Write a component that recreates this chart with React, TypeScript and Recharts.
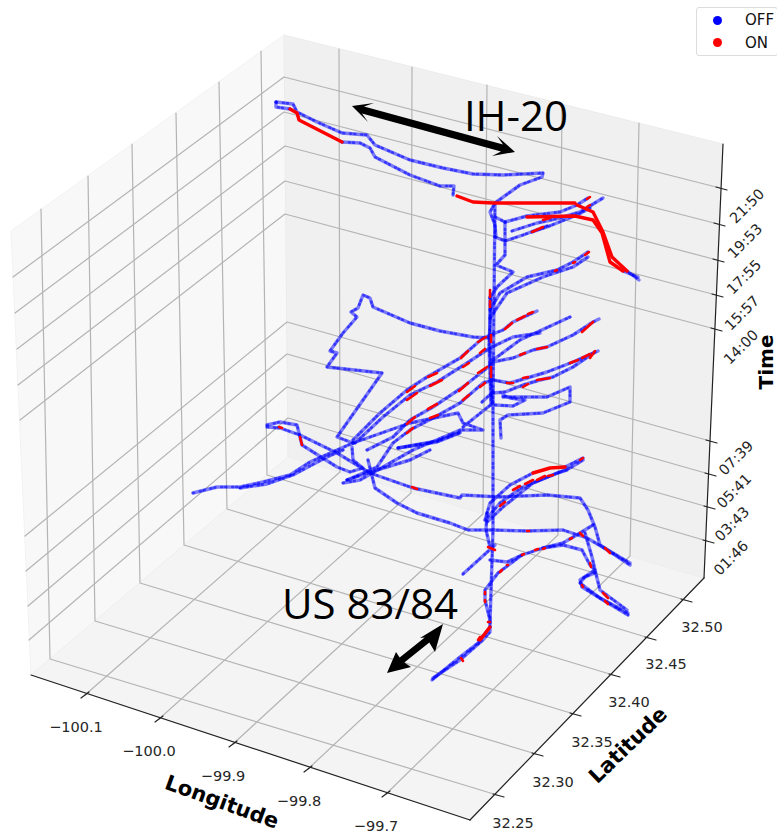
import { Legend, Scatter, ScatterChart, XAxis, YAxis } from 'recharts';

type Pt = number[];

const leftWall: Pt[] = [[11, 231], [284, 35], [288, 457], [31, 675]];
const backWall: Pt[] = [[284, 35], [723, 144], [704, 578], [288, 457]];
const floor: Pt[] = [[31, 675], [288, 457], [704, 578], [470, 820]];

const lonFront: Pt[] = [[85, 695], [159, 719], [233, 744], [308, 769], [386, 794]];
const lonBack: Pt[] = [[340, 472], [411, 493], [483, 514], [558, 535], [630, 556]];
const lonTop: Pt[] = [[339, 49], [412, 67], [487, 85], [562, 104], [639, 123]];

const latFront: Pt[] = [[497, 795], [536, 754], [574, 714], [613, 675], [649, 638], [685, 600]];
const latBack: Pt[] = [[50, 659], [95, 621], [140, 583], [184, 545], [227, 509], [267, 475]];
const latTop: Pt[] = [[41, 209], [88, 176], [132, 144], [176, 113], [219, 82], [261, 51]];

const timeRight: Pt[] = [[720, 188], [718, 224], [717, 260], [716, 295], [715, 329], [710, 441], [709, 474], [708, 507], [707, 541]];
const timeCorner: Pt[] = [[284, 77], [284, 112], [285, 146], [285, 181], [285, 214], [287, 322], [287, 354], [287, 387], [288, 418]];
const timeLeft: Pt[] = [[13, 277], [15, 313], [17, 349], [18, 385], [20, 420], [25, 536], [26, 571], [28, 606], [29, 640]];

const lonLabels = ['−100.1', '−100.0', '−99.9', '−99.8', '−99.7'];
const lonLabelAt: Pt[] = [[76, 727], [149, 751], [223, 776], [299, 801], [376, 826]];
const latLabels = ['32.25', '32.30', '32.35', '32.40', '32.45', '32.50'];
const latLabelAt: Pt[] = [[513, 823], [553, 782], [592, 742], [629, 702], [666, 664], [702, 627]];
const timeLabels = ['21:50', '19:53', '17:55', '15:57', '14:00', '07:39', '05:41', '03:43', '01:46'];
const timeLabelAt: Pt[] = [[747, 206], [745, 241], [744, 277], [742, 313], [741, 347], [736, 458], [734, 491], [732, 524], [731, 558]];

const arrowIH: Pt[] = [[352, 106], [374, 103], [364, 106.6], [503, 144.6], [497, 136], [515, 152], [492, 156], [501, 151.4], [362, 113.4], [368, 122]];
const arrowUS: Pt[] = [[443, 624], [435, 652], [429.3, 642.6], [404.3, 662.6], [411, 667], [387, 673], [396, 652], [399.7, 657.4], [424.7, 637.4], [420, 638]];

const offRoutes: Pt[][] = [
  // IH-20 pair
  [[276, 102], [293, 104], [297, 112], [317, 122], [342, 133], [367, 135], [375, 145], [410, 160], [443, 168], [473, 174], [503, 175], [543, 173], [542, 177], [520, 185], [495, 203], [490, 212], [495, 225], [496, 237]],
  [[276, 102], [276, 107], [290, 109]],
  [[342, 142], [360, 143], [370, 148], [375, 157], [410, 175], [440, 186], [454, 186], [453, 195]],
  [[495, 217], [505, 222], [527, 216], [560, 212], [577, 205], [588, 198]],
  [[512, 231], [537, 223], [560, 218], [580, 212], [603, 198]],
  [[532, 232], [547, 227], [577, 215], [590, 208]],
  [[495, 237], [505, 241], [523, 235], [547, 226]],
  [[623, 271], [638, 277]],
  [[627, 271], [639, 280]],
  [[505, 222], [505, 255], [496, 265], [513, 272], [497, 287], [490, 298]],
  [[490, 310], [500, 293], [527, 277], [557, 270], [573, 262], [588, 252]],
  [[490, 318], [507, 293], [543, 277], [573, 267], [588, 257]],
  // long vertical
  [[495, 203], [494, 300], [493, 403], [493, 530], [490, 623]],
  [[490, 297], [490, 340], [492, 403]],
  [[491, 300], [489, 345], [491, 405]],
  // middle bundle
  [[353, 440], [380, 413], [407, 390], [427, 377], [460, 358], [483, 338], [503, 330], [513, 322], [537, 311]],
  [[355, 443], [383, 417], [410, 395], [437, 382], [467, 363], [490, 348], [513, 337], [540, 333]],
  [[493, 360], [520, 340], [570, 317]],
  [[367, 450], [393, 437], [410, 420], [433, 407], [463, 387], [487, 368], [493, 362], [513, 358], [533, 350], [547, 347], [573, 335], [593, 322], [599, 319]],
  [[347, 480], [377, 467], [393, 443], [410, 430], [435, 417], [460, 403], [483, 383], [493, 380], [510, 383], [527, 378], [547, 372], [573, 362], [598, 351]],
  [[493, 393], [505, 392], [523, 385], [540, 380], [553, 377], [573, 367], [595, 352]],
  // zigzag on the left
  [[353, 443], [337, 437], [382, 373], [327, 367], [337, 353], [330, 351], [343, 333], [357, 317], [351, 312], [358, 308], [363, 295], [370, 298], [373, 307], [410, 323], [440, 331], [473, 337], [490, 338]],
  [[193, 493], [217, 487], [240, 487], [263, 482], [290, 475], [310, 462], [337, 450], [353, 443]],
  [[240, 488], [267, 484], [293, 475], [308, 467], [327, 457], [343, 450]],
  [[267, 427], [280, 428], [300, 435], [337, 453], [370, 473], [413, 488], [460, 498], [462, 495], [500, 497], [547, 495], [580, 498], [588, 510], [595, 527], [600, 545], [630, 565]],
  [[267, 425], [280, 422], [297, 425], [300, 437], [302, 445], [337, 467], [350, 472], [363, 468], [353, 460], [352, 447]],
  [[368, 460], [375, 488], [397, 503], [417, 513], [450, 523], [468, 530], [493, 530], [527, 531], [563, 530], [587, 538], [630, 563]],
  [[347, 480], [377, 470], [410, 460], [430, 450]],
  [[343, 483], [360, 480], [413, 450], [460, 430], [483, 430], [463, 423], [458, 413], [410, 423], [353, 443]],
  [[398, 448], [437, 442], [460, 433]],
  [[398, 448], [437, 441], [460, 432]],
  [[463, 427], [493, 403]],
  // short stubs by the stem
  [[482, 402], [493, 392]],
  [[495, 405], [513, 406], [525, 400], [510, 398], [503, 395]],
  [[503, 397], [547, 397], [570, 387], [570, 402], [543, 413], [508, 415], [500, 420], [501, 438]],
  // lower cluster
  [[485, 520], [490, 503], [510, 485], [533, 473]],
  [[565, 467], [583, 458]],
  [[488, 517], [500, 503], [523, 487], [553, 475], [570, 468], [583, 460]],
  [[487, 522], [503, 507], [533, 483], [557, 473], [567, 470]],
  [[487, 513], [486, 530], [490, 547]],
  [[463, 574], [495, 545]],
  [[490, 560], [507, 562], [522, 555], [543, 548], [563, 543], [580, 533], [593, 525]],
  [[522, 555], [498, 573], [485, 590], [485, 600], [490, 620], [490, 632], [483, 640], [460, 660], [433, 678]],
  [[490, 627], [478, 643], [460, 657], [450, 665], [432, 680]],
  [[543, 548], [563, 545], [582, 550], [590, 565], [595, 570], [580, 580], [582, 587], [603, 600], [628, 615]],
  [[585, 533], [592, 557], [595, 570], [600, 590], [627, 610]],
  [[595, 573], [585, 577], [580, 583], [600, 598], [628, 613]],
];

const onRoutes: Pt[][] = [
  [[290, 109], [297, 113], [299, 120], [342, 142]],
  [[457, 196], [473, 202], [493, 203], [553, 203], [575, 203]],
  [[527, 217], [575, 216], [593, 220], [602, 233], [610, 262], [623, 271]],
  [[577, 205], [593, 212], [603, 232], [612, 257], [627, 271]],
  [[533, 473], [550, 468], [565, 467]],
  [[490, 627], [480, 640]],
];

const onSpecks: Pt[][] = [
  [[407, 392], [415, 386]], [[428, 377], [437, 373]], [[461, 358], [468, 351]], [[478, 342], [486, 337]],
  [[505, 329], [512, 323]], [[517, 320], [525, 316]], [[528, 314], [533, 312]],
  [[407, 400], [417, 393]], [[430, 386], [442, 380]], [[463, 367], [469, 363]], [[480, 353], [485, 349]],
  [[407, 424], [415, 417]], [[428, 409], [437, 404]], [[459, 391], [468, 383]], [[478, 373], [487, 367]],
  [[537, 349], [547, 347]], [[582, 332], [593, 322]], [[520, 355], [525, 353]],
  [[407, 433], [413, 428]], [[430, 418], [438, 415]], [[463, 400], [469, 395]], [[480, 387], [485, 383]],
  [[507, 383], [513, 383]], [[523, 378], [528, 377]], [[537, 380], [550, 378]], [[523, 387], [528, 384]],
  [[570, 363], [578, 360]], [[582, 358], [590, 354]], [[590, 358], [595, 351]],
  [[412, 487], [417, 489]], [[279, 427], [282, 428]], [[300, 437], [302, 445]],
  [[490, 290], [490, 297]], [[490, 301], [490, 307]], [[491, 367], [491, 377]], [[491, 335], [491, 342]],
  [[513, 490], [520, 486]], [[525, 484], [533, 480]], [[537, 480], [545, 476]], [[548, 476], [553, 475]],
  [[500, 506], [505, 502]], [[580, 460], [583, 458]], [[507, 565], [508, 565]],
  [[488, 547], [495, 550]], [[527, 531], [529, 531]], [[580, 533], [583, 536]], [[605, 548], [610, 553]],
  [[590, 563], [591, 567]], [[603, 593], [608, 598]], [[605, 601], [608, 604]], [[582, 585], [583, 587]],
  [[461, 658], [463, 661]], [[478, 640], [480, 637]], [[488, 622], [490, 622]], [[485, 592], [485, 594]],
  [[485, 600], [485, 602]], [[500, 572], [502, 570]], [[522, 555], [524, 554]], [[535, 550], [538, 549]],
  [[543, 549], [545, 548]], [[570, 539], [572, 538]],
  [[543, 220], [550, 218]], [[587, 207], [590, 205]], [[587, 199], [590, 197]], [[532, 232], [543, 227]],
  [[555, 271], [557, 270]], [[573, 263], [575, 262]], [[585, 255], [589, 252]],
];

const toPlane = (pts: Pt[]) => pts.map(([x, y]) => ({ x, y }));
const noMark = () => <g />;

type LineStyle = { stroke: string; strokeWidth: number; strokeOpacity?: number; strokeDasharray?: string };

function renderLine(key: string, pts: Pt[], style: LineStyle) {
  return (
    <Scatter
      key={key}
      data={toPlane(pts)}
      line={{ ...style, strokeLinejoin: 'round', strokeLinecap: 'round' }}
      lineType="joint"
      shape={noMark}
      isAnimationActive={false}
    />
  );
}

function renderShape(key: string, pts: Pt[], fill: string, stroke = 'none') {
  return (
    <Scatter
      key={key}
      data={toPlane(pts)}
      lineType="joint"
      line={(p: any) => (
        <polygon
          points={p.points.map((q: any) => `${q.x},${q.y}`).join(' ')}
          fill={fill}
          stroke={stroke}
        />
      )}
      shape={noMark}
      isAnimationActive={false}
    />
  );
}

function renderTexts(
  key: string,
  labels: string[],
  at: Pt[],
  angle: number,
  font: { fontFamily: string; fontSize: number; fontWeight?: string; fill: string },
) {
  const data = labels.map((label, i) => ({ x: at[i][0], y: at[i][1], label }));
  return (
    <Scatter
      key={key}
      data={data}
      isAnimationActive={false}
      shape={(p: any) => (
        <text
          x={p.cx}
          y={p.cy}
          textAnchor="middle"
          dominantBaseline="central"
          transform={angle ? `rotate(${angle} ${p.cx} ${p.cy})` : undefined}
          {...font}
        >
          {p.payload.label}
        </text>
      )}
    />
  );
}

const GRID = { stroke: '#b4b4b4', strokeWidth: 1.2 };
const AXIS = { stroke: '#222222', strokeWidth: 1.2 };
const TICK_FONT = { fontFamily: 'DejaVu Sans', fontSize: 14.5, fill: '#262626' };
const TITLE_FONT = { fontFamily: 'DejaVu Sans', fontSize: 21, fontWeight: 'bold', fill: '#000000' };
const NOTE_FONT = { fontFamily: 'Open Sans', fontSize: 42, fill: '#000000' };

function LegendBox() {
  const rows = [
    { name: 'OFF', color: '#0000ff' },
    { name: 'ON', color: '#ff0000' },
  ];
  return (
    <div
      style={{
        width: 82,
        height: 49,
        boxSizing: 'border-box',
        background: '#fff',
        border: '1px solid #dcdcdc',
        borderRadius: 3,
        paddingTop: 1,
        fontFamily: 'DejaVu Sans',
        fontSize: 15,
        color: '#111',
      }}
    >
      {rows.map((row) => (
        <div key={row.name} style={{ display: 'flex', alignItems: 'center', height: 22.5 }}>
          <span
            style={{ width: 9, height: 9, borderRadius: 5, marginLeft: 16, background: row.color }}
          />
          <span style={{ marginLeft: 23 }}>{row.name}</span>
        </div>
      ))}
    </div>
  );
}

export default function App() {
  return (
    <div style={{ position: 'absolute', left: 0, top: 0, width: 777, height: 836 }}>
      <ScatterChart width={777} height={836} margin={{ top: 0, right: 0, bottom: 0, left: 0 }}>
        <XAxis type="number" dataKey="x" domain={[0, 777]} hide />
        <YAxis type="number" dataKey="y" domain={[0, 836]} reversed hide />
        <Legend
          content={() => <LegendBox />}
          layout="horizontal"
          verticalAlign="middle"
          wrapperStyle={{ position: 'absolute', left: 696, top: 7, width: 82, height: 49 }}
        />

        {renderShape('left-wall', leftWall, '#f8f8f8', '#f2f2f2')}
        {renderShape('back-wall', backWall, '#f0f0f0', '#ececec')}
        {renderShape('floor', floor, '#f4f4f4', '#eeeeee')}

        {lonFront.map((p, i) => renderLine(`lon-floor-${i}`, [p, lonBack[i], lonTop[i]], GRID))}
        {latFront.map((p, i) => renderLine(`lat-floor-${i}`, [p, latBack[i], latTop[i]], GRID))}
        {timeRight.map((p, i) => renderLine(`time-${i}`, [p, timeCorner[i], timeLeft[i]], GRID))}

        {renderLine('axis-lon', [[31, 675], [470, 820]], AXIS)}
        {renderLine('axis-lat', [[470, 820], [704, 578]], AXIS)}
        {renderLine('axis-time', [[704, 578], [723, 144]], AXIS)}
        {lonFront.map(([x, y], i) => renderLine(`lon-tick-${i}`, [[x + 4, y - 3], [x - 4, y + 3]], AXIS))}
        {latFront.map(([x, y], i) => renderLine(`lat-tick-${i}`, [[x - 4, y - 1], [x + 7, y + 2]], AXIS))}
        {timeRight.map(([x, y], i) => renderLine(`time-tick-${i}`, [[x - 4, y - 1], [x + 7, y + 2]], AXIS))}

        {offRoutes.map((r, i) => renderLine(`off-${i}`, r, { stroke: '#0000ff', strokeWidth: 3.4, strokeOpacity: 0.5 }))}
        {offRoutes.map((r, i) =>
          renderLine(`off-dots-${i}`, r, { stroke: '#0000ff', strokeWidth: 2.6, strokeOpacity: 0.55, strokeDasharray: '1 6 1 3' }),
        )}
        {onRoutes.map((r, i) => renderLine(`on-${i}`, r, { stroke: '#ff0000', strokeWidth: 3.4 }))}
        {onSpecks.map((r, i) => renderLine(`on-speck-${i}`, r, { stroke: '#ff0000', strokeWidth: 2.6 }))}

        {renderShape('arrow-ih', arrowIH, '#000000')}
        {renderShape('arrow-us', arrowUS, '#000000')}

        {renderTexts('lon-labels', lonLabels, lonLabelAt, 0, TICK_FONT)}
        {renderTexts('lat-labels', latLabels, latLabelAt, 0, TICK_FONT)}
        {renderTexts('time-labels', timeLabels, timeLabelAt, -45, TICK_FONT)}
        {renderTexts('title-lon', ['Longitude'], [[222, 802]], 20, TITLE_FONT)}
        {renderTexts('title-lat', ['Latitude'], [[628, 745]], -44, TITLE_FONT)}
        {renderTexts('title-time', ['Time'], [[766, 362]], -90, { ...TITLE_FONT, fontSize: 20 })}
        {renderTexts('note-ih', ['IH-20'], [[516, 114]], 0, NOTE_FONT)}
        {renderTexts('note-us', ['US 83/84'], [[370, 602]], 0, NOTE_FONT)}
      </ScatterChart>
    </div>
  );
}
